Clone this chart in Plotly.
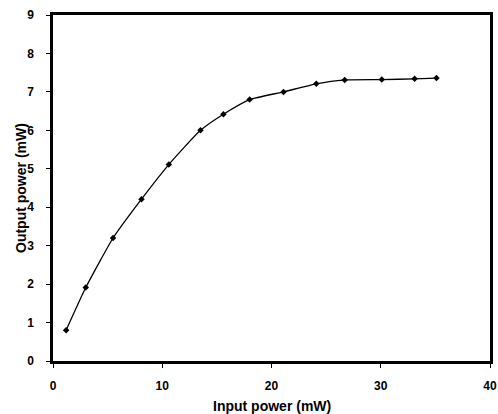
import plotly.graph_objects as go

input_power = [1.2, 3.0, 5.5, 8.1, 10.6, 13.5, 15.6, 18.0, 21.1, 24.1, 26.7, 30.1, 33.1, 35.1]
output_power = [0.8, 1.91, 3.2, 4.21, 5.11, 6.0, 6.42, 6.8, 7.0, 7.21, 7.31, 7.32, 7.34, 7.36]

fig = go.Figure()
fig.add_trace(go.Scatter(
    x=input_power, y=output_power, mode="lines+markers",
    line=dict(color="black", width=1.3, shape="spline", smoothing=0.5),
    marker=dict(symbol="diamond", size=5, color="black"),
    showlegend=False,
))

font_family = "Liberation Sans, Arial, sans-serif"
fig.update_layout(
    width=498, height=414,
    margin=dict(l=53, r=8, t=15, b=53),
    paper_bgcolor="white", plot_bgcolor="white",
    font=dict(family=font_family, color="black", size=12),
    xaxis=dict(
        range=[0, 40], dtick=10, showgrid=False, zeroline=False, automargin=False,
        showline=True, linecolor="black", linewidth=2.5, mirror=True,
        ticks="outside", ticklen=4, tickwidth=1, tickcolor="black",
        tickfont=dict(size=12, weight="bold"), ticklabelstandoff=8,
    ),
    yaxis=dict(
        range=[0, 9], dtick=1, showgrid=False, zeroline=False, automargin=False,
        showline=True, linecolor="black", linewidth=2.5, mirror=True,
        ticks="outside", ticklen=4, tickwidth=1, tickcolor="black",
        tickfont=dict(size=12, weight="bold"), ticklabelstandoff=10,
    ),
    annotations=[
        dict(text="Output power (mW)", xref="paper", yref="paper", x=0, y=0.5,
             xshift=-32, xanchor="center", yanchor="middle", textangle=-90,
             showarrow=False, font=dict(size=14, weight="bold")),
        dict(text="Input power (mW)", xref="paper", yref="paper", x=0.5, y=0,
             yshift=-45, xanchor="center", yanchor="middle",
             showarrow=False, font=dict(size=14, weight="bold")),
    ],
)

fig.write_html("out.html", post_script="document.body.style.margin='0';",
               config={"displayModeBar": False})
